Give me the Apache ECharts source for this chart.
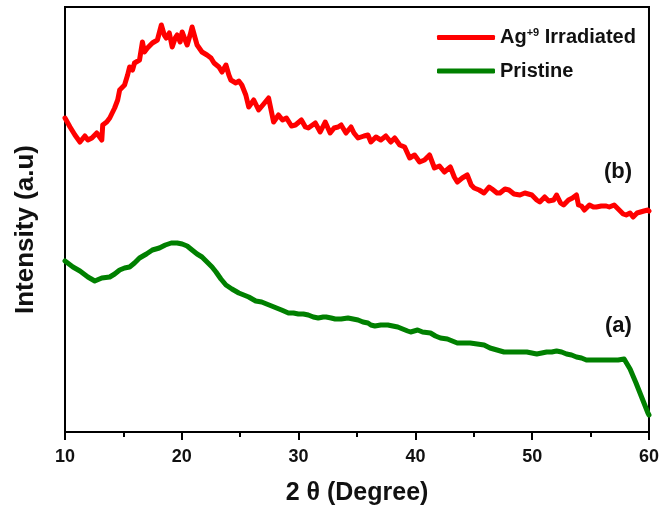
<!DOCTYPE html>
<html>
<head>
<meta charset="utf-8">
<script src="https://cdn.jsdelivr.net/npm/echarts@6/dist/echarts.min.js"></script>
<style>
  html, body { margin: 0; padding: 0; background: #fff; }
  #main { width: 662px; height: 517px; }
</style>
</head>
<body>
<div id="main"></div>
<script type="text/javascript">
    // 2θ 位置 (degree) 和强度 (a.u.)
    var irrX = [10.0, 10.43, 10.85, 11.28, 11.70, 11.96, 12.30, 12.72, 13.15, 13.23, 13.57, 13.83, 14.25, 14.51, 14.68,
        15.10, 15.36, 15.53, 15.78, 15.95, 16.38, 16.63, 16.80, 17.06, 17.48, 17.91, 18.25, 18.50, 18.67, 18.93,
        19.18, 19.44, 19.61, 19.86, 20.03, 20.29, 20.46, 20.71, 20.88, 21.14, 21.31, 21.73, 22.16, 22.50, 22.76,
        23.18, 23.44, 23.78, 24.03, 24.20, 24.63, 24.88, 25.14, 25.48, 25.73, 26.16, 26.58, 27.01, 27.43, 27.86,
        28.28, 28.62, 28.96, 29.39, 29.73, 30.24, 30.58, 30.83, 31.43, 31.85, 32.28, 32.70, 33.04, 33.38, 33.64,
        34.06, 34.49, 34.74, 35.09, 35.60, 35.94, 36.19, 36.62, 37.04, 37.47, 37.89, 38.23, 38.66, 39.08, 39.51,
        39.93, 40.36, 40.78, 41.21, 41.63, 42.06, 42.48, 42.99, 43.33, 43.59, 44.01, 44.44, 44.78, 45.03, 45.46,
        45.88, 46.31, 46.56, 46.99, 47.24, 47.67, 48.01, 48.44, 48.95, 49.37, 49.97, 50.39, 50.65, 51.07, 51.41,
        51.84, 52.09, 52.43, 52.69, 53.11, 53.45, 53.79, 53.96, 54.22, 54.47, 54.90, 55.24, 55.49, 55.92, 56.34,
        56.60, 57.02, 57.45, 57.79, 58.04, 58.38, 58.64, 58.98, 59.15, 59.57, 59.91, 60.0];
    var irrY = [314, 305, 297, 290, 296, 292, 294, 299, 292, 307, 310, 314, 324, 332, 342,
        347, 357, 365, 362, 369, 372, 390, 380, 384, 389, 392, 407, 397, 394, 399,
        385, 394, 397, 390, 400, 392, 387, 397, 405, 394, 387, 380, 377, 374, 369,
        365, 360, 367, 357, 352, 349, 351, 347, 337, 325, 332, 322, 328, 334, 310,
        317, 312, 314, 306, 307, 312, 305, 304, 309, 300, 310, 299, 304, 305, 307,
        299, 305, 299, 294, 296, 297, 290, 295, 292, 296, 290, 294, 287, 285, 274,
        277, 270, 272, 277, 264, 266, 260, 265, 255, 250, 254, 257, 247, 244, 242,
        239, 245, 243, 239, 239, 243, 242, 238, 237, 239, 237, 232, 230, 235, 231,
        232, 237, 229, 227, 232, 234, 237, 227, 226, 222, 227, 225, 225, 226, 226,
        225, 227, 222, 218, 217, 219, 215, 219, 220, 221, 222, 221];

    var priX = [10.0, 10.17, 10.68, 11.28, 11.96, 12.55, 13.15, 13.83, 14.25, 14.68, 15.10, 15.53, 15.95, 16.38, 16.97,
        17.48, 18.08, 18.59, 19.10, 19.61, 20.03, 20.46, 20.88, 21.31, 21.73, 22.16, 22.59, 22.93, 23.35, 23.78,
        24.29, 24.88, 25.31, 25.73, 26.33, 26.84, 27.26, 27.69, 28.11, 28.54, 29.13, 29.56, 29.98, 30.41, 30.83,
        31.26, 31.68, 32.11, 32.36, 32.79, 33.13, 33.64, 34.23, 34.66, 35.09, 35.51, 35.94, 36.19, 36.53, 37.04,
        37.64, 38.06, 38.49, 38.91, 39.34, 39.59, 40.19, 40.61, 41.29, 41.72, 42.14, 42.74, 43.16, 43.59, 44.18,
        44.69, 45.29, 45.88, 46.39, 46.99, 47.59, 48.10, 48.69, 49.12, 49.54, 49.97, 50.39, 50.82, 51.24, 51.67,
        52.09, 52.52, 52.94, 53.37, 53.79, 54.22, 54.64, 55.24, 56.09, 56.77, 57.36, 57.87, 58.38, 58.89, 59.40,
        59.91, 60.0];
    var priY = [171, 170, 165, 161, 155, 151, 154, 155, 158, 162, 164, 165, 169, 174, 178,
        182, 184, 187, 189, 189, 188, 186, 182, 178, 175, 170, 165, 160, 153, 147,
        143, 139, 137, 135, 131, 130, 128, 126, 124, 122, 119, 119, 118, 118, 117,
        115, 114, 115, 115, 114, 113, 113, 114, 113, 112, 110, 109, 107, 106, 107,
        107, 106, 105, 103, 101, 100, 102, 100, 99, 96, 94, 93, 91, 89, 89,
        89, 88, 87, 84, 82, 80, 80, 80, 80, 80, 79, 78, 79, 80, 80,
        81, 80, 78, 77, 75, 74, 72, 72, 72, 72, 72, 73, 63, 49, 34,
        19, 17];

    var seriesNames = ['Ag+9 Irradiated', 'Pristine'];
    var xTicks = [10, 20, 30, 40, 50, 60];

    function pairs(xs, ys) {
        return xs.map(function (x, i) { return [x, ys[i]]; });
    }

    var font = '"Liberation Sans", Arial, sans-serif';
    var myChart = echarts.init(document.getElementById('main'));

    var option = {
        animation: false,
        backgroundColor: '#fff',
        color: ['#ff0000', '#008000'],
        grid: {
            left: 65, right: 9, top: 7, bottom: 85,
            show: true, borderColor: '#000', borderWidth: 2, backgroundColor: 'transparent'
        },
        legend: {
            orient: 'vertical',
            left: 432, top: 22,
            itemWidth: 58, itemHeight: 5, itemGap: 13,
            icon: 'roundRect',
            data: seriesNames,
            formatter: function (name) {
                return name === seriesNames[0] ? '{b|Ag}{sup|+9}{b| Irradiated}' : '{b|Pristine}';
            },
            textStyle: {
                fontFamily: font, fontWeight: 'bold', color: '#111',
                rich: {
                    b: { fontFamily: font, fontWeight: 'bold', fontSize: 20, lineHeight: 21, color: '#111' },
                    sup: { fontFamily: font, fontWeight: 'bold', fontSize: 11, verticalAlign: 'top', lineHeight: 21, color: '#111', padding: [0, 0, 10, 0] }
                }
            }
        },
        xAxis: {
            type: 'value', min: 10, max: 60, interval: 10,
            name: '2 θ (Degree)', nameLocation: 'middle', nameGap: 49,
            nameTextStyle: { fontFamily: font, fontWeight: 'bold', fontSize: 25, color: '#111' },
            axisLine: { onZero: false, lineStyle: { color: '#000', width: 2 } },
            axisTick: { show: true, inside: false, length: 8, lineStyle: { color: '#000', width: 2 } },
            minorTick: { show: true, splitNumber: 2, length: 5, lineStyle: { color: '#000', width: 2 } },
            splitLine: { show: false },
            axisLabel: {
                margin: 16, fontFamily: font, fontWeight: 'bold', fontSize: 18, color: '#111',
                formatter: function (v) { return xTicks.indexOf(v) >= 0 ? String(v) : ''; }
            }
        },
        yAxis: {
            type: 'value', min: 0, max: 425,
            name: 'Intensity (a.u)', nameLocation: 'middle', nameRotate: 90, nameGap: 26,
            nameTextStyle: { fontFamily: font, fontWeight: 'bold', fontSize: 26, color: '#111', padding: [0, 20, 0, 0] },
            axisLine: { show: true, lineStyle: { color: '#000', width: 2 } },
            axisTick: { show: false },
            axisLabel: { show: false },
            splitLine: { show: false }
        },
        graphic: [
            { type: 'text', left: 604, top: 161, style: { text: '(b)', font: 'bold 22px ' + font, fill: '#111' } },
            { type: 'text', left: 605, top: 315, style: { text: '(a)', font: 'bold 22px ' + font, fill: '#111' } }
        ],
        series: [{
            name: seriesNames[0],
            type: 'line',
            showSymbol: false,
            lineStyle: { width: 5, color: '#ff0000', cap: 'round', join: 'round' },
            data: pairs(irrX, irrY)
        }, {
            name: seriesNames[1],
            type: 'line',
            showSymbol: false,
            lineStyle: { width: 5, color: '#008000', cap: 'round', join: 'round' },
            data: pairs(priX, priY)
        }]
    };

    myChart.setOption(option);
</script>
</body>
</html>
